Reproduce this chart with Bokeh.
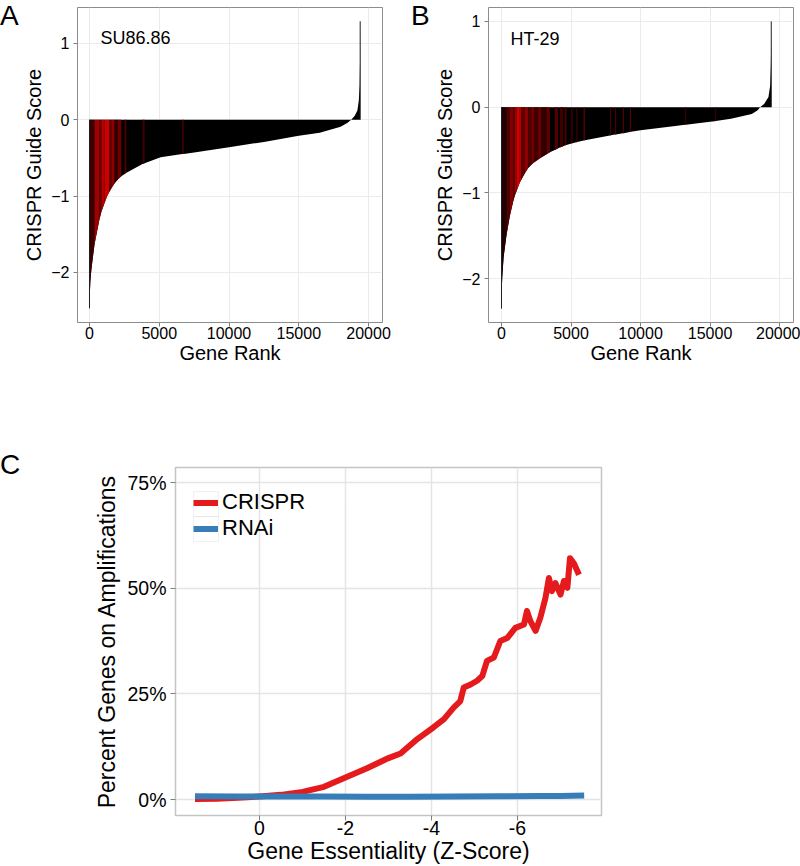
from bokeh.plotting import figure
from bokeh.models import Range1d, FixedTicker, Label, Legend, LegendItem, BoxAnnotation, Div
from bokeh.layouts import column, row
from bokeh.embed import file_html
from bokeh.resources import INLINE

FONT = "Liberation Sans"

# ---------------- Panel A : SU86.86 ----------------
RANK_A = [0, 20, 60, 140, 360, 720, 840, 1080, 1270, 1440, 1560, 1800, 2040, 2280,
          2520, 2640, 2750, 3800, 3950, 5100, 6650, 6750, 7500, 10000, 12500, 15000,
          16500, 18000, 18500, 18750, 19000, 19200, 19300, 19360, 19390, 19400]
SCORE_A = [-2.47, -2.30, -2.12, -1.95, -1.63, -1.30, -1.21, -1.09, -1.00, -0.94, -0.90,
           -0.83, -0.78, -0.74, -0.71, -0.695, -0.685, -0.58, -0.57, -0.49, -0.45, -0.447,
           -0.43, -0.36, -0.29, -0.21, -0.17, -0.09, -0.04, 0.00, 0.05, 0.12, 0.25, 0.45,
           0.80, 1.29]
BAND_A_START = [0, 360, 720, 840, 1080, 1440, 1560, 1800, 2040, 2520, 3800, 6650]
BAND_A_END = [360, 720, 840, 1080, 1440, 1560, 1800, 2040, 2280, 2640, 3950, 6750]
BAND_A_COLOR = ["#3a0000", "#a00000", "#680000", "#b00000", "#cc0000", "#580000",
                "#900000", "#300000", "#700000", "#500000", "#400000", "#500000"]

# ---------------- Panel B : HT-29 ----------------
RANK_B = [0, 15, 50, 150, 360, 600, 840, 960, 1080, 1320, 1440, 1680, 1920, 2160, 2330,
          2640, 2880, 3240, 3480, 3830, 4070, 4190, 4430, 4550, 4670, 5030, 5100, 5390,
          5460, 5900, 6000, 7800, 7870, 8160, 8230, 8730, 8800, 9230, 9310, 10000, 12500,
          13190, 13260, 15000, 15340, 15410, 16500, 18000, 18400, 18600, 18900, 19200,
          19320, 19370, 19395, 19400]
SCORE_B = [-2.35, -2.15, -2.00, -1.75, -1.49, -1.27, -1.10, -1.03, -0.98, -0.88, -0.84,
           -0.77, -0.71, -0.67, -0.645, -0.61, -0.585, -0.55, -0.525, -0.50, -0.48, -0.47,
           -0.455, -0.447, -0.44, -0.425, -0.422, -0.41, -0.407, -0.39, -0.387, -0.33,
           -0.328, -0.32, -0.318, -0.305, -0.303, -0.29, -0.288, -0.27, -0.22, -0.205,
           -0.204, -0.17, -0.163, -0.161, -0.135, -0.08, -0.04, 0.00, 0.04, 0.12, 0.25,
           0.50, 0.75, 1.00]
BAND_B_START = [0, 360, 600, 840, 960, 1080, 1320, 1440, 1680, 1920, 2160, 2330, 2640,
                2880, 3240, 3830, 4190, 4550, 5030, 5390, 5900, 7800, 8160, 8730, 9230,
                13190, 15340]
BAND_B_END = [360, 600, 840, 960, 1080, 1320, 1440, 1680, 1920, 2160, 2330, 2640, 2880,
              3240, 3480, 4070, 4430, 4670, 5100, 5460, 6000, 7870, 8230, 8800, 9310,
              13260, 15410]
BAND_B_COLOR = ["#200000", "#500000", "#800000", "#600000", "#a00000", "#d00000",
                "#b00000", "#600000", "#900000", "#500000", "#800000", "#400000",
                "#700000", "#300000", "#600000", "#500000", "#400000", "#500000",
                "#600000", "#500000", "#600000", "#500000", "#500000", "#600000",
                "#600000", "#400000", "#400000"]

RANK_TICKS = [0, 5000, 10000, 15000, 20000]
SCORE_TICKS = [-2, -1, 0, 1]

# ---------------- Panel C ----------------
Z_CRISPR = [1.5, 1.0, 0.5, 0.0, -0.5, -1.0, -1.5, -2.0, -2.5, -3.0, -3.28, -3.67, -4.05,
            -4.29, -4.52, -4.67, -4.75, -4.91, -5.06, -5.18, -5.29, -5.45, -5.6, -5.76,
            -5.95, -6.15, -6.22, -6.3, -6.42, -6.53, -6.65, -6.73, -6.8, -6.88, -7.0,
            -7.08, -7.16, -7.22, -7.31, -7.43]
PCT_CRISPR = [0.1, 0.2, 0.4, 0.7, 1.1, 1.8, 3.0, 5.2, 7.4, 9.8, 10.9, 14.3, 17.1, 19.0,
              21.8, 23.3, 26.5, 27.2, 28.1, 29.2, 32.8, 33.6, 37.5, 38.2, 40.6, 41.4,
              44.6, 42.2, 39.9, 43.0, 47.7, 52.4, 49.3, 51.2, 48.5, 51.7, 50.1, 57.1,
              55.9, 53.2]
Z_RNAI = [1.5, 0.5, -0.5, -1.5, -2.5, -3.5, -4.5, -5.5, -6.5, -7.0, -7.55]
PCT_RNAI = [0.75, 0.7, 0.7, 0.7, 0.65, 0.65, 0.7, 0.75, 0.8, 0.85, 0.95]
Z_TICKS = [0, -2, -4, -6]
PCT_TICKS = [0, 25, 50, 75]


def to_data(rng, start_px, length_px, px, flip=False):
    a, b = rng.start, rng.end
    if flip:
        return b - (px - start_px) / length_px * (b - a)
    return a + (px - start_px) / length_px * (b - a)


def style_axes(p, tick_font, title_font, tick_color="#7f7f7f"):
    for ax in (p.xaxis, p.yaxis):
        ax.axis_line_color = None
        ax.major_tick_line_color = tick_color
        ax.major_tick_in = 0
        ax.minor_tick_line_color = None
        ax.major_label_text_font = FONT
        ax.major_label_text_font_size = tick_font
        ax.major_label_text_color = "black"
        ax.axis_label_text_font = FONT
        ax.axis_label_text_font_size = title_font
        ax.axis_label_text_font_style = "normal"
        ax.axis_label_text_color = "black"


def rank_panel(width, height, L, R, T, B, xr, yr, rank, score, bs, be, bc,
               name, name_px):
    p = figure(width=width, height=height, x_range=Range1d(*xr), y_range=Range1d(*yr),
               output_backend="svg", toolbar_location=None,
               min_border_left=L, min_border_right=R, min_border_top=T, min_border_bottom=B,
               background_fill_color="white", border_fill_color="white")
    p.outline_line_color = "#8c8c8c"
    p.outline_line_width = 1
    p.xgrid.grid_line_color = "#ebebeb"
    p.ygrid.grid_line_color = "#ebebeb"
    p.xaxis.ticker = FixedTicker(ticks=RANK_TICKS)
    p.yaxis.ticker = FixedTicker(ticks=SCORE_TICKS)
    p.xaxis.major_label_overrides = {t: str(t) for t in RANK_TICKS}
    p.yaxis.major_label_overrides = {t: str(t).replace("-", "\u2212") for t in SCORE_TICKS}
    p.xaxis.axis_label = "Gene Rank"
    p.yaxis.axis_label = "CRISPR Guide Score"
    style_axes(p, "16px", "20px")
    p.xaxis.major_tick_out = 4
    p.yaxis.major_tick_out = 4
    p.xaxis.major_label_standoff = 0
    p.yaxis.major_label_standoff = 4
    p.xaxis.axis_label_standoff = 0
    p.yaxis.axis_label_standoff = 3

    p.varea(x=rank, y1=0, y2=score, fill_color="black")
    xs, ys = [], []
    for s, e in zip(bs, be):
        pts = [(r, v) for r, v in zip(rank, score) if s <= r <= e]
        xs.append([s] + [r for r, _ in pts] + [e])
        ys.append([0] + [v for _, v in pts] + [0])
    p.patches(xs=xs, ys=ys, fill_color=bc, line_color=None)
    p.segment(x0=[rank[0], rank[-1]], y0=[0, 0], x1=[rank[0], rank[-1]],
              y1=[score[0], score[-1]], line_color="#202020", line_width=1)

    fw, fh = width - L - R, height - T - B
    p.add_layout(Label(x=to_data(p.x_range, L, fw, name_px[0]),
                       y=to_data(p.y_range, T, fh, name_px[1], flip=True),
                       text=name, text_font=FONT, text_font_size="18px",
                       text_baseline="alphabetic", text_align="left", text_color="black"))
    return p


pA = rank_panel(400, 380, 77, 18, 7, 58, (-860, 21000), (-2.655, 1.47),
                RANK_A, SCORE_A, BAND_A_START, BAND_A_END, BAND_A_COLOR,
                "SU86.86", (100, 37.3))
pB = rank_panel(400, 380, 88, 7, 6, 58, (-935, 21000), (-2.512, 1.163),
                RANK_B, SCORE_B, BAND_B_START, BAND_B_END, BAND_B_COLOR,
                "HT-29", (110, 37.3))

# ---------------- Panel C figure ----------------
WC, HC, LC, RC, TC, BC = 620, 486, 175, 19, 87, 51
pC = figure(width=WC, height=HC, x_range=Range1d(1.953, -7.953), y_range=Range1d(-3.785, 78.55),
            output_backend="svg", toolbar_location=None,
            min_border_left=LC, min_border_right=RC, min_border_top=TC, min_border_bottom=BC,
            background_fill_color="white", border_fill_color="white")
pC.outline_line_color = "#c4c4c4"
pC.outline_line_width = 1.5
pC.xgrid.grid_line_color = "#e4e4e4"
pC.ygrid.grid_line_color = "#e4e4e4"
pC.xgrid.grid_line_width = 1.5
pC.ygrid.grid_line_width = 1.5
pC.xaxis.ticker = FixedTicker(ticks=Z_TICKS)
pC.yaxis.ticker = FixedTicker(ticks=PCT_TICKS)
pC.xaxis.major_label_overrides = {t: str(t) for t in Z_TICKS}
pC.yaxis.major_label_overrides = {t: f"{t}%" for t in PCT_TICKS}
pC.xaxis.axis_label = "Gene Essentiality (Z-Score)"
pC.yaxis.axis_label = "Percent Genes on Amplifications"
style_axes(pC, "19.5px", "23px")
pC.xaxis.major_tick_out = 5
pC.yaxis.major_tick_out = 5
pC.xaxis.major_label_standoff = 0
pC.yaxis.major_label_standoff = 4
pC.xaxis.axis_label_standoff = 0
pC.yaxis.axis_label_standoff = 4

r1 = pC.line(Z_CRISPR, PCT_CRISPR, line_color="#E41A1C", line_width=6, line_join="round")
r2 = pC.line(Z_RNAI, PCT_RNAI, line_color="#377EB8", line_width=6, line_join="round")
legend = Legend(items=[LegendItem(label="CRISPR", renderers=[r1]),
                       LegendItem(label="RNAi", renderers=[r2])],
                location=(18, 274), padding=0, margin=0, spacing=0,
                glyph_width=25, glyph_height=25, label_height=25, label_standoff=4,
                label_text_font=FONT, label_text_font_size="22px",
                label_text_baseline="middle", label_text_color="black",
                border_line_color=None, background_fill_alpha=0)
pC.add_layout(legend)

fwc, fhc = WC - LC - RC, HC - TC - BC
for top_px in (111, 136):
    pC.add_layout(BoxAnnotation(
        left=to_data(pC.x_range, LC, fwc, 193), right=to_data(pC.x_range, LC, fwc, 218),
        top=to_data(pC.y_range, TC, fhc, top_px, flip=True),
        bottom=to_data(pC.y_range, TC, fhc, top_px + 25, flip=True),
        fill_alpha=0, line_color="#cfcfcf", line_width=1, level="underlay"))


def panel_letter(text, left, top):
    return Div(text=text, width=30, height=32,
               styles={"position": "absolute", "left": f"{left}px", "top": f"{top}px",
                       "font-family": FONT, "font-size": "28px", "line-height": "32px",
                       "color": "black", "margin": "0px", "padding": "0px",
                       "z-index": "10"})


letters = [panel_letter("A", 0, 0), panel_letter("B", 411, 0), panel_letter("C", 0, 449)]

layout = column(row(pA, pB), pC, *letters, styles={"position": "relative"})
open("out.html", "w").write(file_html(layout, INLINE))
